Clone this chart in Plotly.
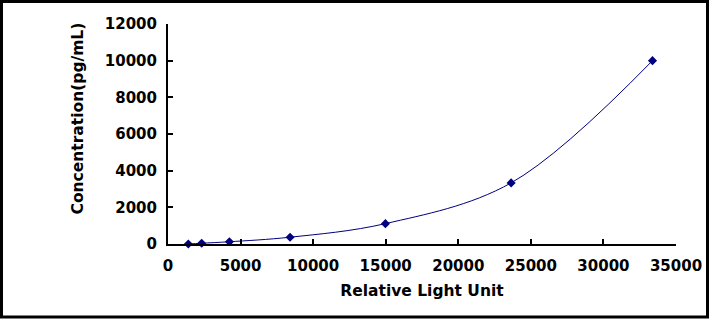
import plotly.graph_objects as go

rlu = [1400, 2320, 4230, 8410, 14980, 23640, 33380]
conc = [0, 41.15, 123.46, 370.37, 1111.11, 3333.33, 10000]

x_ticks = [0, 5000, 10000, 15000, 20000, 25000, 30000, 35000]
y_ticks = [0, 2000, 4000, 6000, 8000, 10000, 12000]

W, H = 709, 319
ML, MR, MT, MB = 168, 33, 24, 75
PW, PH = W - ML - MR, H - MT - MB

font_family = "DejaVu Sans, Liberation Sans, sans-serif"

fig = go.Figure()
fig.add_trace(go.Scatter(
    x=rlu, y=conc, mode="lines",
    line=dict(color="#000080", width=1, shape="spline", smoothing=1.0),
    hoverinfo="skip", cliponaxis=True,
))
fig.add_trace(go.Scatter(
    x=rlu, y=conc, mode="markers",
    marker=dict(symbol="diamond", size=7, color="#000080"),
    cliponaxis=False,
))

axis_common = dict(
    showgrid=False, zeroline=False, showline=True, linecolor="black", linewidth=2,
    ticks="inside", ticklen=5, tickwidth=2, tickcolor="black",
    tickfont=dict(family=font_family, size=15, color="black", weight="bold"),
    tickformat="d", automargin=False,
)

fig.update_layout(
    width=W, height=H,
    margin=dict(l=ML, r=MR, t=MT, b=MB),
    paper_bgcolor="white", plot_bgcolor="white",
    showlegend=False,
    xaxis=dict(range=[0, 35000], tickvals=x_ticks, ticklabelstandoff=7, **axis_common,
               title=dict(text="<b>Relative Light Unit</b>", standoff=11,
                          font=dict(family=font_family, size=15.5, color="black"))),
    yaxis=dict(range=[0, 12000], tickvals=y_ticks, ticklabelstandoff=6, **axis_common),
    annotations=[dict(
        text="<b>Concentration(pg/mL)</b>", textangle=-90,
        xref="paper", yref="paper",
        x=(77.5 - ML) / PW, y=(MT + PH - 119) / PH,
        xanchor="center", yanchor="middle", showarrow=False,
        font=dict(family=font_family, size=15.5, color="black"),
    )],
    shapes=[dict(
        type="rect", xref="paper", yref="paper",
        x0=(1.5 - ML) / PW, x1=(707.5 - ML) / PW,
        y0=-(317 - (MT + PH)) / PH, y1=1 + (MT - 1.5) / PH,
        line=dict(color="black", width=3), fillcolor="rgba(0,0,0,0)", layer="above",
    )],
)

fig.write_html("out.html")
